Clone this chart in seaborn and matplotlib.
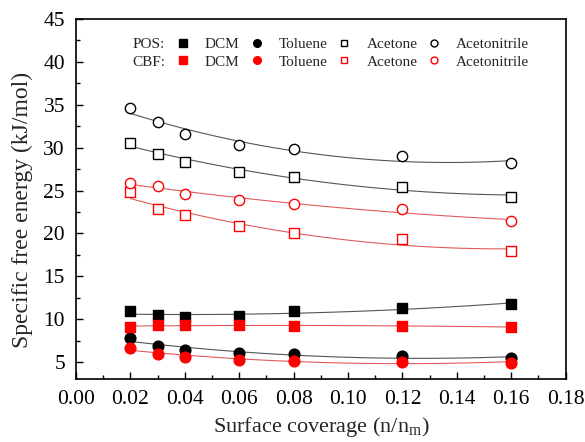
import numpy as np
import pandas as pd
import matplotlib.pyplot as plt
import seaborn as sns
from matplotlib.lines import Line2D
from matplotlib.ticker import MultipleLocator

# surface coverage (n/n_m)
coverage = [0.02, 0.03, 0.04, 0.06, 0.08, 0.12, 0.16]

# specific free energy (kJ/mol)
pos_dcm = [10.9, 10.5, 10.2, 10.4, 10.9, 11.3, 11.8]
pos_toluene = [7.8, 6.9, 6.4, 6.1, 5.9, 5.7, 5.5]
pos_acetone = [30.6, 29.3, 28.3, 27.2, 26.6, 25.4, 24.3]
pos_acetonitrile = [34.6, 33.0, 31.6, 30.3, 29.8, 29.0, 28.2]

cbf_dcm = [9.1, 9.3, 9.3, 9.3, 9.2, 9.2, 9.1]
cbf_toluene = [6.7, 5.9, 5.6, 5.3, 5.1, 5.05, 4.95]
cbf_acetone = [24.8, 22.8, 22.1, 20.9, 20.0, 19.3, 17.9]
cbf_acetonitrile = [25.9, 25.5, 24.6, 23.9, 23.4, 22.9, 21.4]

solvents = ["DCM", "Toluene", "Acetone", "Acetonitrile"]
samples = ["POS", "CBF"]

series = {
    ("POS", "DCM"): pos_dcm, ("POS", "Toluene"): pos_toluene,
    ("POS", "Acetone"): pos_acetone, ("POS", "Acetonitrile"): pos_acetonitrile,
    ("CBF", "DCM"): cbf_dcm, ("CBF", "Toluene"): cbf_toluene,
    ("CBF", "Acetone"): cbf_acetone, ("CBF", "Acetonitrile"): cbf_acetonitrile,
}
rows = []
for (s, solv), vals in series.items():
    for xv, yv in zip(coverage, vals):
        rows.append({"sample": s, "solvent": solv, "x": xv, "y": yv})
df = pd.DataFrame(rows)

sns.set_theme(style="ticks")
plt.rcParams["font.family"] = ["Liberation Serif", "DejaVu Serif"]
plt.rcParams["mathtext.fontset"] = "custom"
plt.rcParams["mathtext.rm"] = "Liberation Serif"

marker_col = {"POS": "black", "CBF": "#ff0000"}
line_col = {"POS": "#555555", "CBF": "#e05a5a"}
marker_shape = {"DCM": "s", "Toluene": "o", "Acetone": "s", "Acetonitrile": "o"}
filled = {"DCM": True, "Toluene": True, "Acetone": False, "Acetonitrile": False}

fig, ax = plt.subplots(figsize=(5.85, 4.42), dpi=100)
fig.subplots_adjust(left=0.13, right=0.967, top=0.957, bottom=0.142)

for s in samples:
    for solv in solvents:
        sub = df[(df["sample"] == s) & (df["solvent"] == solv)]
        sns.regplot(data=sub, x="x", y="y", order=2, ci=None, scatter=False,
                    color=line_col[s], line_kws={"lw": 0.8}, ax=ax)
        fc = marker_col[s] if filled[solv] else "white"
        sns.scatterplot(data=sub, x="x", y="y", marker=marker_shape[solv],
                        s=60 if filled[solv] else 55, facecolor=fc,
                        edgecolor=marker_col[s], linewidth=1.0, zorder=3, ax=ax)

ax.set_xlim(0, 0.18)
ax.set_ylim(3, 45)
ax.xaxis.set_minor_locator(MultipleLocator(0.01))
ax.yaxis.set_minor_locator(MultipleLocator(2.5))
ax.set_xticks(np.arange(0, 0.181, 0.02))
ax.set_xticklabels([f"{v:.2f}" for v in np.arange(0, 0.181, 0.02)])
ax.set_yticks([5, 10, 15, 20, 25, 30, 35, 40, 45])
ax.tick_params(which="both", direction="in", top=False, right=False,
               labelsize=15.5, colors="black", width=1.0)
ax.tick_params(which="major", length=5, pad=8)
ax.tick_params(which="minor", length=3)
for sp in ax.spines.values():
    sp.set_visible(True)
    sp.set_linewidth(1.2)
    sp.set_color("black")

ax.set_xlabel(r"Surface coverage (n/n$_\mathregular{m}$)", fontsize=16, labelpad=4)
ax.set_ylabel("Specific free energy (kJ/mol)", fontsize=17)
ax.yaxis.set_label_coords(-0.088, 0.47)

# legend: row labels as empty handles in the first column
blank = Line2D([], [], linestyle="none")
handles, labels = [blank, blank], ["POS:", "CBF:"]
for solv in solvents:
    for s in samples:
        fc = marker_col[s] if filled[solv] else "white"
        handles.append(Line2D([], [], linestyle="none", marker=marker_shape[solv],
                              markersize=5.5 if filled[solv] else 5,
                              markerfacecolor=fc,
                              markeredgecolor=marker_col[s], markeredgewidth=1.0))
        labels.append(solv)
ax.legend(handles, labels, ncol=5, frameon=False, loc="upper left",
          bbox_to_anchor=(0.043, 0.97), fontsize=11, handlelength=0.8,
          handletextpad=1.04, columnspacing=0.71, labelspacing=0.25, borderpad=0)

plt.savefig("out.png", dpi=100)
